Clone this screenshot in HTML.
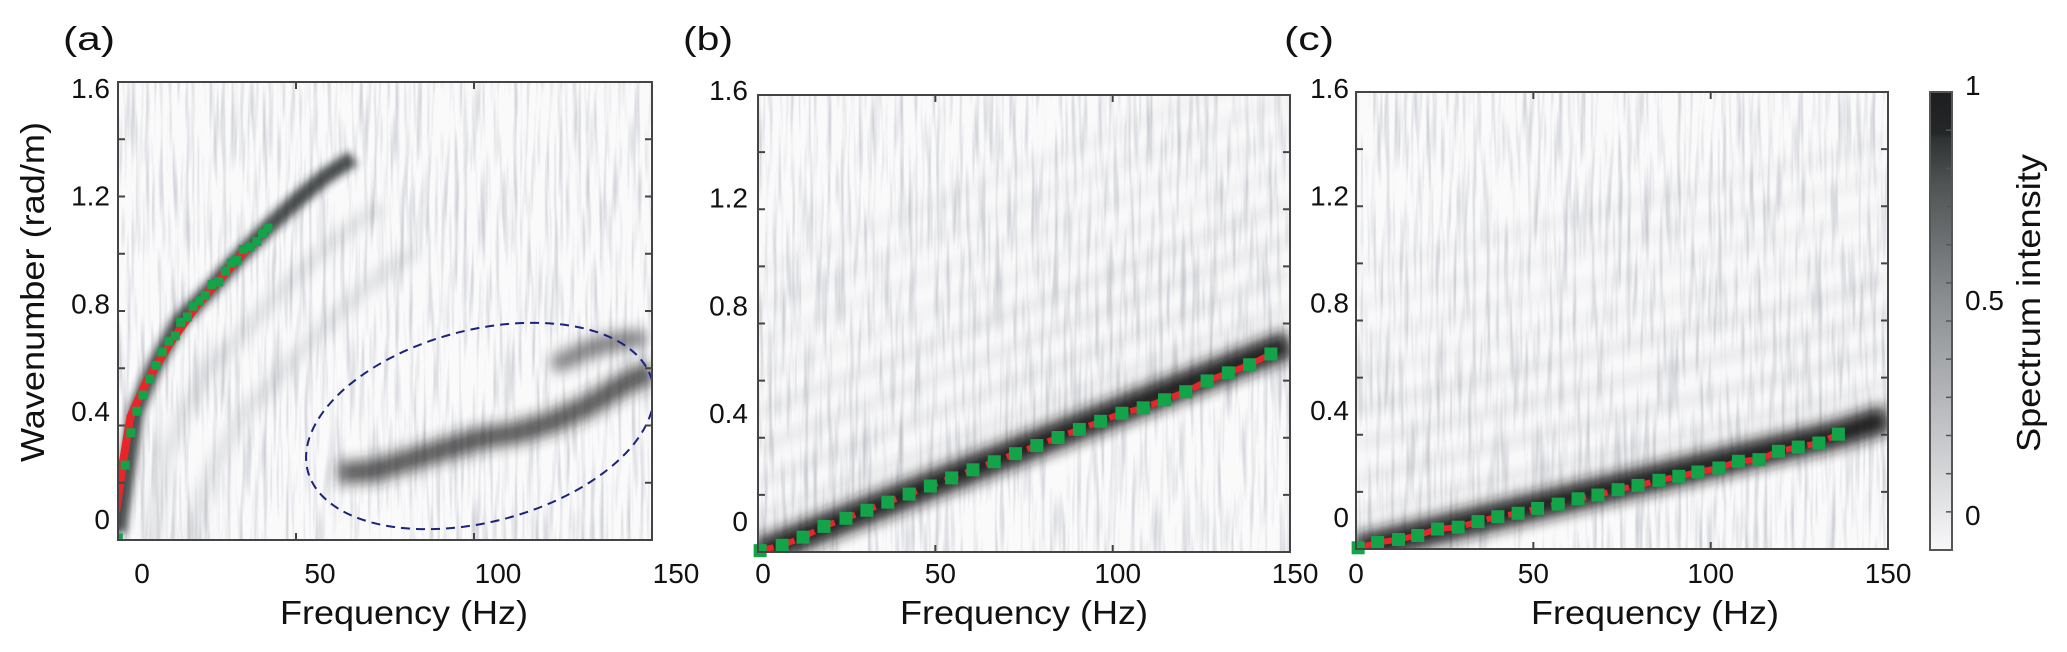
<!DOCTYPE html>
<html><head><meta charset="utf-8">
<style>
html,body{margin:0;padding:0;background:#fff;}
svg{display:block;font-family:"Liberation Sans",Arial,sans-serif;}
</style></head>
<body>
<svg id="fig" width="2067" height="652" viewBox="0 0 2067 652" xmlns="http://www.w3.org/2000/svg">
<defs>
  <filter id="tex" x="0" y="0" width="100%" height="100%">
    <feTurbulence type="fractalNoise" baseFrequency="0.22 0.012" numOctaves="2" seed="4"/>
    <feColorMatrix type="matrix" values="0 0 0 0 0.33  0 0 0 0 0.35  0 0 0 0 0.40  1.2 0 0 0 -0.55"/>
  </filter>
  <filter id="blur" filterUnits="userSpaceOnUse" x="0" y="0" width="2067" height="652"><feGaussianBlur stdDeviation="7"/></filter>
  <filter id="blur2" filterUnits="userSpaceOnUse" x="0" y="0" width="2067" height="652"><feGaussianBlur stdDeviation="4"/></filter>
  <clipPath id="clipA"><rect x="118" y="82" width="534" height="458"/></clipPath>
  <clipPath id="clipB"><rect x="758" y="95" width="532" height="457"/></clipPath>
  <clipPath id="clipC"><rect x="1356" y="92" width="532" height="457"/></clipPath>
  <linearGradient id="cbar" x1="0" y1="1" x2="0" y2="0">
    <stop offset="0" stop-color="#f8f8f9"/>
    <stop offset="0.25" stop-color="#c4c6c9"/>
    <stop offset="0.55" stop-color="#8a8d90"/>
    <stop offset="0.8" stop-color="#4f5354"/>
    <stop offset="0.9" stop-color="#2e3233"/>
    <stop offset="0.91" stop-color="#242728"/>
    <stop offset="1" stop-color="#1e1e20"/>
  </linearGradient>
</defs>
<g id="root"></g>
</svg>
<script>
// ---- data (Hz, rad/m) ----
const aFreq = [0.1,2.0,3.6,5.3,7.0,8.9,10.7,12.4,14.3,16.1,17.6,19.5,21.1,22.9,24.5,26.4,28.3,30.2,31.8,33.3,35.2,37.1,39.0,40.6,42.1];
const aWave = [-0.07,0.20,0.32,0.40,0.46,0.52,0.57,0.62,0.66,0.68,0.73,0.75,0.79,0.81,0.83,0.87,0.88,0.92,0.95,0.96,1.00,1.01,1.03,1.06,1.08];
const aFitFreq = [-0.5,1.5,3.5,8.0,15.0,22.0,30.0,36.0];
const aFitWave = [0.03,0.22,0.38,0.51,0.66,0.79,0.91,1.00];
const aRidgeFreq = [0,5,10,17,25,33,42,50,58,66];
const aRidgeWave = [-0.05,0.40,0.56,0.73,0.84,0.96,1.08,1.18,1.27,1.34];
const aBandFreq = [62,72,82,92,102,112,122,132,142,150];
const aBandWave = [0.17,0.18,0.22,0.26,0.30,0.32,0.36,0.42,0.50,0.55];

const bFreq = [0.6,6.8,12.7,18.6,24.8,30.7,36.6,42.6,48.6,54.6,60.6,66.6,72.6,78.6,84.6,90.6,96.6,102.6,108.6,114.6,120.6,126.6,132.6,138.6,144.6];
const bWave = [-0.11,-0.09,-0.06,-0.02,0.01,0.04,0.07,0.10,0.13,0.16,0.19,0.22,0.25,0.28,0.31,0.34,0.37,0.40,0.42,0.45,0.48,0.52,0.55,0.58,0.62];

const cFreq = [0.6,6.1,12.0,17.4,23.0,28.8,34.4,40.0,45.7,51.2,57.0,62.6,68.2,73.9,79.5,85.4,91.0,96.4,102.3,107.8,113.6,119.1,124.7,130.5,136.0];
const cWave = [-0.115,-0.095,-0.084,-0.069,-0.045,-0.038,-0.017,0.001,0.014,0.032,0.048,0.068,0.082,0.102,0.118,0.137,0.152,0.168,0.183,0.208,0.214,0.245,0.261,0.276,0.309];

const xTickVals = [0,50,100,150];
const yTickVals = [0,0.4,0.8,1.2,1.6];
const yTickLabels = ["0","0.4","0.8","1.2","1.6"];
const cbarTickVals = [0,0.5,1];

const NS = "http://www.w3.org/2000/svg";
const root = document.getElementById('root');
function mk(tag, attrs, parent){ const e=document.createElementNS(NS,tag); for(const k in attrs) e.setAttribute(k,attrs[k]); (parent||root).appendChild(e); return e; }

const panels = [
 {id:'a', L:118,R:652,T:82,B:540, x0:118,xk:3.56, y0:519,yk:269.4, labOff:24, labX:63, ylabR:110, clip:'clipA', title:404},
 {id:'b', L:758,R:1290,T:95,B:552, x0:758,xk:3.547, y0:521,yk:269.4, labOff:5, labX:683, ylabR:748, clip:'clipB', title:1024},
 {id:'c', L:1356,R:1888,T:92,B:549, x0:1356,xk:3.547, y0:517,yk:268, labOff:0, labX:1284, ylabR:1349, clip:'clipC', title:1655}
];

function pathFrom(p, fs, ws){ return fs.map((f,i)=>(i?'L':'M')+p.sx(f).toFixed(1)+' '+p.sy(ws[i]).toFixed(1)).join(' '); }

panels.forEach(p=>{
  p.sx = f => p.x0 + f*p.xk;
  p.sy = v => p.y0 - v*p.yk;
  const g = mk('g',{});
  
  
  const hm = mk('g',{'clip-path':'url(#'+p.clip+')'},g);
  
  
  mk('rect',{x:p.L,y:p.T,width:p.R-p.L,height:p.B-p.T,fill:'#fafafb'},hm);
  mk('rect',{x:p.L,y:p.T,width:p.R-p.L,height:p.B-p.T,filter:'url(#tex)'},hm);
  p.hm = hm; p.g = g;
});

// ---- panel a heatmap features ----
(function(){
  const p = panels[0];
  [ -0.18, -0.34 ].forEach((off,k)=>{
    const e = mk('path',{d:pathFrom(p,aRidgeFreq.map(f=>f+8+k*10),aRidgeWave.map(v=>v+off)),fill:'none',stroke:'#6a6e74','stroke-width':12,opacity:0.22,filter:'url(#blur)'},p.hm);
    
    
  });
  const r = mk('path',{d:pathFrom(p,aRidgeFreq,aRidgeWave),fill:'none',stroke:'#1e2022','stroke-width':16,opacity:0.8,filter:'url(#blur2)'},p.hm);
  
  
  const b1 = mk('path',{d:pathFrom(p,aBandFreq,aBandWave),fill:'none',stroke:'#202224','stroke-width':22,opacity:0.75,filter:'url(#blur)'},p.hm);
  
  
  const b2 = mk('path',{d:pathFrom(p,[124,132,140,146],[0.58,0.63,0.66,0.67]),fill:'none',stroke:'#2a2c2e',
    'stroke-width':18,opacity:0.6,'stroke-linecap':'round',filter:'url(#blur)'},p.hm);
  
  
  const el = mk('ellipse',{cx:480,cy:426,rx:178,ry:96,transform:'rotate(-14.6 480 426)',fill:'none',stroke:'#1a237e','stroke-width':2,'stroke-dasharray':'9 6'},p.hm);
  
  
  const fit = mk('path',{d:pathFrom(p,aFitFreq,aFitWave),fill:'none',stroke:'#e8262a','stroke-width':8},p.hm);
  
  
  aFreq.forEach((f,i)=>{
    const s = mk('rect',{x:p.sx(f)-4.5,y:p.sy(aWave[i])-4.5,width:9,height:9,fill:'#13a44a'},p.hm);
    
    
  });
})();

// ---- panels b, c ----
[[panels[1],bFreq,bWave,[0,150],[-0.12,0.66]],[panels[2],cFreq,cWave,[0,136,150],[-0.12,0.31,0.37]]].forEach(([p,fs,ws,rf,rw])=>{
  for(let k=1;k<=8;k++){
    const e = mk('path',{d:pathFrom(p,rf,rw.map(v=>v+k*0.13)),fill:'none',stroke:'#7a7e84','stroke-width':10,opacity:(k<5?0.18:0.1),filter:'url(#blur)'},p.hm);
    
    
  }
  const r = mk('path',{d:pathFrom(p,rf,rw),fill:'none',stroke:'#141617','stroke-width':28,opacity:0.95,filter:'url(#blur)'},p.hm);
  
  
  const fit = mk('path',{d:pathFrom(p,fs,ws),fill:'none',stroke:'#e8262a','stroke-width':6,'stroke-dasharray':'14 8'},p.hm);
  
  
  fs.forEach((f,i)=>{
    const s = mk('rect',{x:p.sx(f)-6.5,y:p.sy(ws[i])-6.5,width:13,height:13,fill:'#13a44a'},p.g);
    
    
  });
});

// ---- axes ----
panels.forEach(p=>{
  const g = p.g;
  const box = mk('rect',{x:p.L,y:p.T,width:p.R-p.L,height:p.B-p.T,fill:'none',stroke:'#444','stroke-width':2},g);
  
  
  xTickVals.forEach(v=>{
    const x = p.sx(v);
    if(x>p.L+2 && x<p.R-2){
      mk('line',{x1:x,y1:p.B,x2:x,y2:p.B-7,stroke:'#444','stroke-width':2},g);
      mk('line',{x1:x,y1:p.T,x2:x,y2:p.T+7,stroke:'#444','stroke-width':2},g);
    }
    const t = mk('text',{x:x+p.labOff,y:583,'font-size':28,'text-anchor':'middle',fill:'#111'},g);
    t.textContent = String(v);
    
    
  });
  for(let k=1;k<8;k++){
    const y = p.T + k*(p.B-p.T)/8;
    mk('line',{x1:p.L,y1:y,x2:p.L+7,y2:y,stroke:'#444','stroke-width':2},g);
    mk('line',{x1:p.R,y1:y,x2:p.R-7,y2:y,stroke:'#444','stroke-width':2},g);
  }
  yTickVals.forEach((v,i)=>{
    const t = mk('text',{x:p.ylabR,y:p.sy(v)+10,'font-size':28,'text-anchor':'end',fill:'#111'},g);
    t.textContent = yTickLabels[i];
    
    
  });
  const xt = mk('text',{x:p.title,y:624,'font-size':33,'text-anchor':'middle',fill:'#111',textLength:248,lengthAdjust:'spacingAndGlyphs'},g);
  xt.textContent = 'Frequency (Hz)';
  
  
  const pl = mk('text',{x:p.labX,y:50,'font-size':33,fill:'#111',textLength:(p.id==='a'?52:50),lengthAdjust:'spacingAndGlyphs'},g);
  pl.textContent = '('+p.id+')';
  
  
});

const yt = mk('text',{x:0,y:0,'font-size':33,'text-anchor':'middle',fill:'#111',transform:'translate(44 292) rotate(-90)',textLength:340,lengthAdjust:'spacingAndGlyphs'});
yt.textContent = 'Wavenumber (rad/m)';



const cb = mk('g',{});


mk('rect',{x:1930,y:92,width:22,height:458,fill:'url(#cbar)',stroke:'#555','stroke-width':2},cb);
for(let k=1;k<12;k++){
  const y = 92 + k*458/12;
  mk('line',{x1:1952,y1:y,x2:1946,y2:y,stroke:'#555','stroke-width':1.5},cb);
}
const cbY = v => 515 - v*(515-85);
cbarTickVals.forEach(v=>{
  const t = mk('text',{x:1965,y:cbY(v)+10,'font-size':28,fill:'#111'},cb);
  t.textContent = String(v);
  
  
});
const ct = mk('text',{x:0,y:0,'font-size':33,'text-anchor':'middle',fill:'#111',transform:'translate(2040 303) rotate(-90)',textLength:298,lengthAdjust:'spacingAndGlyphs'},cb);
ct.textContent = 'Spectrum intensity';


</script>
</body></html>
